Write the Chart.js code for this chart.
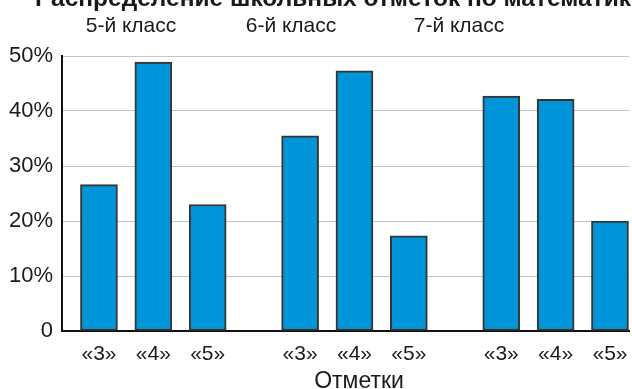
<!DOCTYPE html>
<html>
<head>
<meta charset="utf-8">
<script src="https://cdn.jsdelivr.net/npm/chart.js@4.4.1/dist/chart.umd.min.js"></script>
<style>
  html, body { margin: 0; padding: 0; background: #fff; overflow: hidden; }
  #wrap { width: 632px; height: 389px; }
</style>
</head>
<body>
<div id="wrap"><canvas id="chart" width="632" height="389"></canvas></div>
<script>
// Распределение школьных отметок по математике
const titleText = 'Распределение школьных отметок по математике';
const classes = ['5-й класс', '6-й класс', '7-й класс'];
const grades = ['«3»', '«4»', '«5»'];
const axisTitle = 'Отметки';

// percent of pupils per grade, one array per class
const class5 = [26.6, 48.9, 23.0];
const class6 = [35.5, 47.3, 17.3];
const class7 = [42.7, 42.1, 20.0];

const yTicks = [0, 10, 20, 30, 40, 50];

const GROUP_STEP = 3.7; // distance between class groups, in bar slots
const FONT = '"Liberation Sans", Arial, Helvetica, sans-serif';
const TEXT = '#1a1a1a';

const points = [];
[class5, class6, class7].forEach((vals, g) => {
  vals.forEach((v, i) => points.push({ x: g * GROUP_STEP + i, y: v, label: grades[i] }));
});

// titles drawn by hand: the heading is wider than the picture and cut off
const textPlugin = {
  id: 'texts',
  afterDraw(chart) {
    const ctx = chart.ctx;
    ctx.save();
    ctx.fillStyle = TEXT;
    ctx.textBaseline = 'alphabetic';

    ctx.font = 'bold 24.5px ' + FONT;
    ctx.textAlign = 'left';
    ctx.fillText(titleText, 35, 6);

    ctx.font = '21px ' + FONT;
    ctx.textAlign = 'center';
    const subX = [131, 291, 459];
    classes.forEach((c, i) => ctx.fillText(c, subX[i], 32));

    ctx.font = '23px ' + FONT;
    ctx.fillText(axisTitle, 359, 388);
    ctx.restore();
  }
};

new Chart(document.getElementById('chart'), {
  type: 'bar',
  data: {
    datasets: [{
      data: points,
      backgroundColor: '#0094d8',
      borderColor: '#353535',
      borderWidth: 2,
      borderSkipped: false,
      barThickness: 37
    }]
  },
  options: {
    responsive: false,
    devicePixelRatio: 1,
    animation: false,
    layout: { padding: { top: 56, right: 3, left: 0, bottom: 0 } },
    plugins: {
      legend: { display: false },
      tooltip: { enabled: false }
    },
    scales: {
      x: {
        type: 'linear',
        offset: false,
        min: -0.68,
        max: 9.75,
        grid: { display: false, drawTicks: false },
        border: { display: true, color: '#111', width: 2 },
        afterBuildTicks: (scale) => {
          scale.ticks = points.map(p => ({ value: p.x }));
        },
        afterFit: (scale) => {
          scale.height = 58;
          scale.paddingLeft = 0;
          scale.paddingRight = 0;
        },
        ticks: {
          padding: 11,
          color: TEXT,
          font: { family: FONT, size: 21 },
          callback: (v, i) => points[i] ? points[i].label : ''
        }
      },
      y: {
        min: 0,
        max: 50,
        grid: { color: '#c4c4c4', lineWidth: 1, drawTicks: false },
        border: { display: true, color: '#111', width: 2 },
        afterFit: (scale) => { scale.width = 62; },
        ticks: {
          stepSize: 5,
          padding: 9,
          color: TEXT,
          font: { family: FONT, size: 22 },
          callback: (v) => yTicks.includes(v) ? (v === 0 ? '0' : v + '%') : ''
        }
      }
    }
  },
  plugins: [textPlugin]
});
</script>
</body>
</html>
